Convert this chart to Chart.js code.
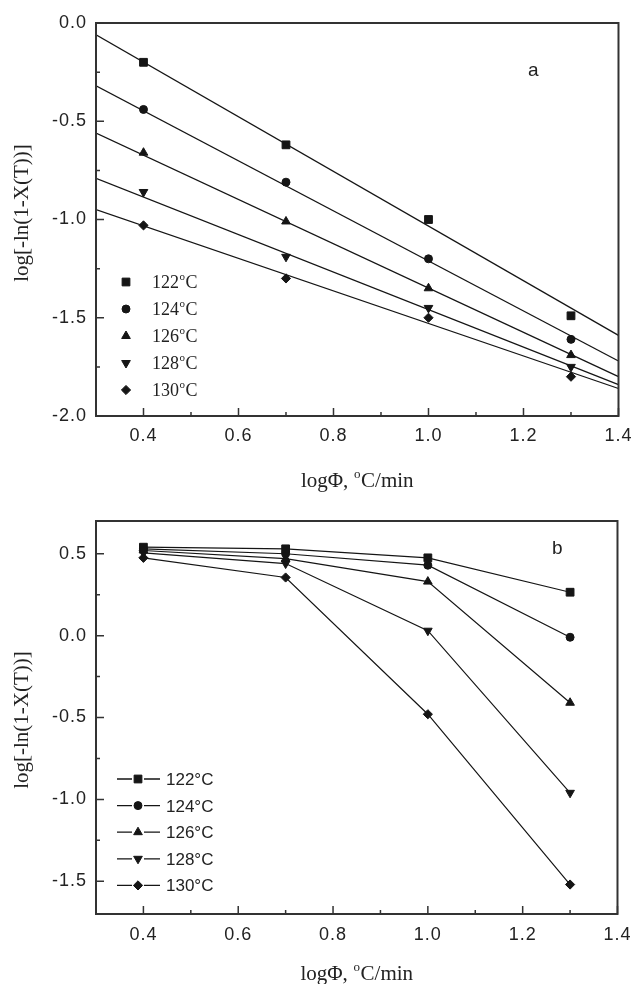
<!DOCTYPE html>
<html>
<head>
<meta charset="utf-8">
<script src="https://cdn.jsdelivr.net/npm/chart.js@4.4.1/dist/chart.umd.min.js"></script>
<style>
  html, body { margin: 0; padding: 0; background: #fff; }
  .wrap { position: absolute; left: 0; width: 640px; }
</style>
</head>
<body>
<div class="wrap" style="top:0;height:500px"><canvas id="chartA"></canvas></div>
<div class="wrap" style="top:480px;height:504px"><canvas id="chartB"></canvas></div>
<script>
// data
const xVals = [0.4, 0.7, 1.0, 1.3];
const seriesLabels = ['122', '124', '126', '128', '130'];

// panel a: measured points
const aY122 = [-0.20, -0.62, -1.00, -1.49];
const aY124 = [-0.44, -0.81, -1.20, -1.61];
const aY126 = [-0.66, -1.01, -1.35, -1.69];
const aY128 = [-0.86, -1.19, -1.45, -1.75];
const aY130 = [-1.03, -1.30, -1.50, -1.80];

// panel a: fitted lines, value at x = 0.3 and x = 1.4
const fitX = [0.3, 1.4];
const fit122 = [-0.06, -1.59];
const fit124 = [-0.32, -1.72];
const fit126 = [-0.56, -1.80];
const fit128 = [-0.79, -1.84];
const fit130 = [-0.95, -1.86];

// panel b
const bY122 = [0.54, 0.53, 0.475, 0.265];
const bY124 = [0.53, 0.50, 0.43, -0.01];
const bY126 = [0.52, 0.47, 0.33, -0.41];
const bY128 = [0.505, 0.44, 0.03, -0.96];
const bY130 = [0.475, 0.355, -0.48, -1.52];

// tick values
const xTicks = [0.3, 0.4, 0.5, 0.6, 0.7, 0.8, 0.9, 1.0, 1.1, 1.2, 1.3, 1.4];
const aYTicks = [-2.0, -1.75, -1.5, -1.25, -1.0, -0.75, -0.5, -0.25, 0.0];
const bYTicks = [-1.5, -1.25, -1.0, -0.75, -0.5, -0.25, 0.0, 0.25, 0.5];

const INK = '#151515';
const TEXT = '#222';
const SANS = "'Liberation Sans', Arial, sans-serif";
const SERIF = "'Liberation Serif', 'Times New Roman', serif";

const markers = [
  { pointStyle: 'rect', radius: 5.5, rotation: 0 },
  { pointStyle: 'circle', radius: 4, rotation: 0 },
  { pointStyle: 'triangle', radius: 5, rotation: 0 },
  { pointStyle: 'triangle', radius: 5, rotation: 180 },
  { pointStyle: 'rectRot', radius: 4.6, rotation: 0 },
];

const isMajorX = (v) => Math.round(v * 10) % 2 === 0;
const isMajorY = (v) => Math.abs(v * 2 - Math.round(v * 2)) < 1e-6;

const toPts = (xs, ys) => xs.map((x, i) => ({ x: x, y: ys[i] }));

const drawMarker = (ctx, m, x, y) => {
  ctx.fillStyle = INK;
  ctx.strokeStyle = INK;
  ctx.lineWidth = 1;
  Chart.helpers.drawPoint(ctx, { pointStyle: m.pointStyle, radius: m.radius, rotation: m.rotation, borderWidth: 1 }, x, y);
};

// text like 122 + raised o + C
const drawSupText = (ctx, parts, x, y, family, size, supSize, rise) => {
  let cx = x;
  ctx.textAlign = 'left';
  ctx.textBaseline = 'alphabetic';
  ctx.font = size + 'px ' + family;
  ctx.fillText(parts[0], cx, y);
  cx += ctx.measureText(parts[0]).width;
  ctx.font = supSize + 'px ' + family;
  ctx.fillText('o', cx + 0.5, y - rise);
  cx += ctx.measureText('o').width + 1;
  ctx.font = size + 'px ' + family;
  ctx.fillText(parts[1], cx, y);
};

const supWidth = (ctx, parts, family, size, supSize) => {
  ctx.font = size + 'px ' + family;
  let w = ctx.measureText(parts[0]).width + ctx.measureText(parts[1]).width;
  ctx.font = supSize + 'px ' + family;
  return w + ctx.measureText('o').width + 1;
};

const makeDecor = (cfg) => ({
  id: 'decor',
  beforeDraw(chart) {
    chart.ctx.letterSpacing = '1px';
  },
  afterDraw(chart) {
    const { ctx, chartArea: a } = chart;
    const sx = chart.scales.x;
    const sy = chart.scales.y;
    ctx.save();
    ctx.letterSpacing = '0px';

    // frame
    ctx.strokeStyle = '#333';
    ctx.lineWidth = 2;
    ctx.strokeRect(a.left, a.top, a.right - a.left, a.bottom - a.top);

    // inward ticks
    ctx.lineWidth = 1.5;
    ctx.beginPath();
    xTicks.forEach((v) => {
      const px = sx.getPixelForValue(v);
      const len = isMajorX(v) ? 8 : 4;
      ctx.moveTo(px, a.bottom);
      ctx.lineTo(px, a.bottom - len);
    });
    cfg.yTicks.forEach((v) => {
      const py = sy.getPixelForValue(v);
      const len = isMajorY(v) ? 8 : 4;
      ctx.moveTo(a.left, py);
      ctx.lineTo(a.left + len, py);
    });
    ctx.stroke();

    // legend
    ctx.fillStyle = TEXT;
    seriesLabels.forEach((lab, i) => {
      const ly = cfg.legendY + i * cfg.legendStep;
      if (cfg.legendLines) {
        ctx.strokeStyle = INK;
        ctx.lineWidth = 1.3;
        ctx.beginPath();
        ctx.moveTo(cfg.legendX - 21, ly);
        ctx.lineTo(cfg.legendX - 6, ly);
        ctx.moveTo(cfg.legendX + 6, ly);
        ctx.lineTo(cfg.legendX + 22, ly);
        ctx.stroke();
      }
      drawMarker(ctx, markers[i], cfg.legendX, ly);
      ctx.fillStyle = TEXT;
      if (cfg.legendSerif) {
        drawSupText(ctx, [lab, 'C'], cfg.legendTextX, ly + 6, SERIF, 18, 11, 8);
      } else {
        ctx.font = '17px ' + SANS;
        ctx.textAlign = 'left';
        ctx.textBaseline = 'alphabetic';
        ctx.fillText(lab + '°C', cfg.legendTextX, ly + 6);
      }
    });

    // panel letter
    ctx.fillStyle = TEXT;
    ctx.font = '19px ' + SANS;
    ctx.textAlign = 'left';
    ctx.textBaseline = 'alphabetic';
    ctx.fillText(cfg.letter, cfg.letterX, cfg.letterY);

    // x title
    const parts = ['logΦ, ', 'C/min'];
    const w = supWidth(ctx, parts, SERIF, 21, 13);
    const cx = (a.left + a.right) / 2;
    drawSupText(ctx, parts, cx - w / 2, cfg.xTitleY, SERIF, 21, 13, 9);

    // y title
    ctx.save();
    ctx.translate(22, cfg.yTitleY);
    ctx.rotate(-Math.PI / 2);
    ctx.font = '21px ' + SERIF;
    ctx.textAlign = 'center';
    ctx.textBaseline = 'middle';
    ctx.fillText('log[-ln(1-X(T))]', 0, 0);
    ctx.restore();

    ctx.restore();
  }
});

const baseScales = (yMin, yMax, yTicks, xHeight, xPad) => ({
  x: {
    type: 'linear',
    min: 0.3,
    max: 1.4,
    afterBuildTicks: (scale) => { scale.ticks = xTicks.map((v) => ({ value: v })); },
    afterFit: (scale) => { scale.height = xHeight; },
    grid: { display: false, drawTicks: false },
    border: { display: false },
    ticks: {
      autoSkip: false,
      maxRotation: 0,
      padding: xPad,
      color: TEXT,
      font: { family: SANS, size: 18 },
      callback: (v) => (isMajorX(v) ? v.toFixed(1) : ''),
    },
  },
  y: {
    type: 'linear',
    min: yMin,
    max: yMax,
    afterBuildTicks: (scale) => { scale.ticks = yTicks.map((v) => ({ value: v })); },
    afterFit: (scale) => { scale.width = 96; },
    grid: { display: false, drawTicks: false },
    border: { display: false },
    ticks: {
      autoSkip: false,
      padding: 9,
      color: TEXT,
      font: { family: SANS, size: 18 },
      callback: (v) => (isMajorY(v) ? (Math.abs(v) < 1e-9 ? '0.0' : v.toFixed(1)) : ''),
    },
  },
});

// panel a
const aSeries = [aY122, aY124, aY126, aY128, aY130];
const aFits = [fit122, fit124, fit126, fit128, fit130];
const aDatasets = [];
aFits.forEach((f) => {
  aDatasets.push({
    data: toPts(fitX, f),
    showLine: true,
    borderColor: INK,
    borderWidth: 1.3,
    pointRadius: 0,
  });
});
aSeries.forEach((s, i) => {
  aDatasets.push({
    data: toPts(xVals, s),
    showLine: false,
    pointStyle: markers[i].pointStyle,
    pointRadius: markers[i].radius,
    rotation: markers[i].rotation,
    pointBackgroundColor: INK,
    pointBorderColor: INK,
    pointBorderWidth: 1,
  });
});

new Chart(document.getElementById('chartA'), {
  type: 'scatter',
  data: { datasets: aDatasets },
  options: {
    responsive: true,
    maintainAspectRatio: false,
    animation: false,
    layout: { padding: { top: 23, right: 15, left: 0, bottom: 0 } },
    plugins: { legend: { display: false }, tooltip: { enabled: false } },
    scales: baseScales(-2.0, 0.0, aYTicks, 84, 9),
  },
  plugins: [makeDecor({
    yTicks: aYTicks,
    legendX: 126, legendTextX: 152, legendY: 282, legendStep: 27,
    legendLines: false, legendSerif: true,
    letter: 'a', letterX: 528, letterY: 76,
    xTitleY: 487, yTitleY: 213,
  })],
});

// panel b
const bSeries = [bY122, bY124, bY126, bY128, bY130];
const bDatasets = bSeries.map((s, i) => ({
  data: toPts(xVals, s),
  showLine: true,
  borderColor: INK,
  borderWidth: 1.2,
  pointStyle: markers[i].pointStyle,
  pointRadius: markers[i].radius,
  rotation: markers[i].rotation,
  pointBackgroundColor: INK,
  pointBorderColor: INK,
  pointBorderWidth: 1,
}));

new Chart(document.getElementById('chartB'), {
  type: 'scatter',
  data: { datasets: bDatasets },
  options: {
    responsive: true,
    maintainAspectRatio: false,
    animation: false,
    layout: { padding: { top: 41, right: 16, left: 0, bottom: 0 } },
    plugins: { legend: { display: false }, tooltip: { enabled: false } },
    scales: baseScales(-1.7, 0.7, bYTicks, 70, 10),
  },
  plugins: [makeDecor({
    yTicks: bYTicks,
    legendX: 138, legendTextX: 166, legendY: 299, legendStep: 26.6,
    legendLines: true, legendSerif: false,
    letter: 'b', letterX: 552, letterY: 74,
    xTitleY: 500, yTitleY: 240,
  })],
});
</script>
</body>
</html>
